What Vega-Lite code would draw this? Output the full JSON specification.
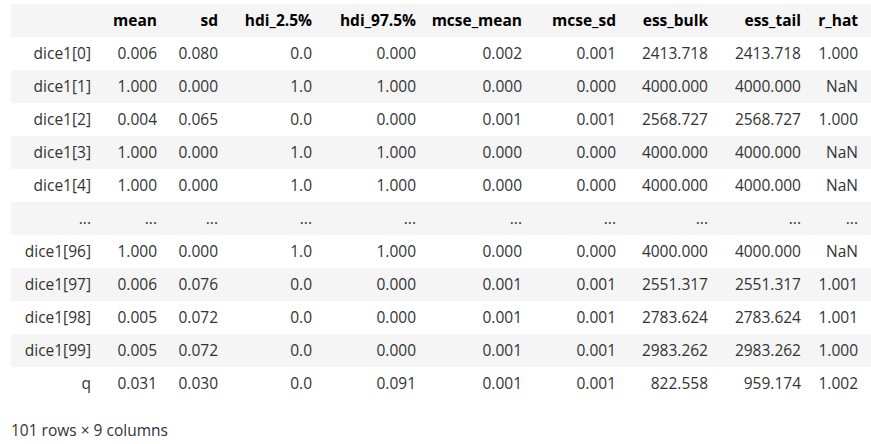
{
  "$schema": "https://vega.github.io/schema/vega-lite/v6.json",
  "padding": {"left": 11, "top": 4, "right": 0, "bottom": 0},
  "spacing": 0,
  "title": {
    "text": "101 rows × 9 columns",
    "orient": "bottom",
    "anchor": "start",
    "offset": 24,
    "font": "Open Sans",
    "fontSize": 15.5,
    "fontWeight": "normal",
    "color": "#333"
  },
  "data": {
    "values": [
      {"r": 0, "shade": true, "idx": "", "mean": "mean", "sd": "sd", "hdi_lo": "hdi_2.5%", "hdi_hi": "hdi_97.5%", "mcse_mean": "mcse_mean", "mcse_sd": "mcse_sd", "ess_bulk": "ess_bulk", "ess_tail": "ess_tail", "r_hat": "r_hat"},
      {"r": 1, "shade": false, "idx": "dice1[0]", "mean": "0.006", "sd": "0.080", "hdi_lo": "0.0", "hdi_hi": "0.000", "mcse_mean": "0.002", "mcse_sd": "0.001", "ess_bulk": "2413.718", "ess_tail": "2413.718", "r_hat": "1.000"},
      {"r": 2, "shade": true, "idx": "dice1[1]", "mean": "1.000", "sd": "0.000", "hdi_lo": "1.0", "hdi_hi": "1.000", "mcse_mean": "0.000", "mcse_sd": "0.000", "ess_bulk": "4000.000", "ess_tail": "4000.000", "r_hat": "NaN"},
      {"r": 3, "shade": false, "idx": "dice1[2]", "mean": "0.004", "sd": "0.065", "hdi_lo": "0.0", "hdi_hi": "0.000", "mcse_mean": "0.001", "mcse_sd": "0.001", "ess_bulk": "2568.727", "ess_tail": "2568.727", "r_hat": "1.000"},
      {"r": 4, "shade": true, "idx": "dice1[3]", "mean": "1.000", "sd": "0.000", "hdi_lo": "1.0", "hdi_hi": "1.000", "mcse_mean": "0.000", "mcse_sd": "0.000", "ess_bulk": "4000.000", "ess_tail": "4000.000", "r_hat": "NaN"},
      {"r": 5, "shade": false, "idx": "dice1[4]", "mean": "1.000", "sd": "0.000", "hdi_lo": "1.0", "hdi_hi": "1.000", "mcse_mean": "0.000", "mcse_sd": "0.000", "ess_bulk": "4000.000", "ess_tail": "4000.000", "r_hat": "NaN"},
      {"r": 6, "shade": true, "idx": "...", "mean": "...", "sd": "...", "hdi_lo": "...", "hdi_hi": "...", "mcse_mean": "...", "mcse_sd": "...", "ess_bulk": "...", "ess_tail": "...", "r_hat": "..."},
      {"r": 7, "shade": false, "idx": "dice1[96]", "mean": "1.000", "sd": "0.000", "hdi_lo": "1.0", "hdi_hi": "1.000", "mcse_mean": "0.000", "mcse_sd": "0.000", "ess_bulk": "4000.000", "ess_tail": "4000.000", "r_hat": "NaN"},
      {"r": 8, "shade": true, "idx": "dice1[97]", "mean": "0.006", "sd": "0.076", "hdi_lo": "0.0", "hdi_hi": "0.000", "mcse_mean": "0.001", "mcse_sd": "0.001", "ess_bulk": "2551.317", "ess_tail": "2551.317", "r_hat": "1.001"},
      {"r": 9, "shade": false, "idx": "dice1[98]", "mean": "0.005", "sd": "0.072", "hdi_lo": "0.0", "hdi_hi": "0.000", "mcse_mean": "0.001", "mcse_sd": "0.001", "ess_bulk": "2783.624", "ess_tail": "2783.624", "r_hat": "1.001"},
      {"r": 10, "shade": true, "idx": "dice1[99]", "mean": "0.005", "sd": "0.072", "hdi_lo": "0.0", "hdi_hi": "0.000", "mcse_mean": "0.001", "mcse_sd": "0.001", "ess_bulk": "2983.262", "ess_tail": "2983.262", "r_hat": "1.000"},
      {"r": 11, "shade": false, "idx": "q", "mean": "0.031", "sd": "0.030", "hdi_lo": "0.0", "hdi_hi": "0.091", "mcse_mean": "0.001", "mcse_sd": "0.001", "ess_bulk": "822.558", "ess_tail": "959.174", "r_hat": "1.002"}
    ]
  },
  "hconcat": [
    {"width": 86, "height": 396,
     "encoding": {"y": {"field": "r", "type": "ordinal", "axis": null, "scale": {"paddingInner": 0, "paddingOuter": 0}}},
     "layer": [
       {"transform": [{"filter": "datum.shade"}], "mark": {"type": "rect", "color": "#f5f5f5"}},
       {"transform": [{"filter": "datum.r > 0"}], "mark": {"type": "text", "style": "cell"}, "encoding": {"x": {"value": "width"}, "text": {"field": "idx"}}}
     ]},
    {"width": 66, "height": 396,
     "encoding": {"y": {"field": "r", "type": "ordinal", "axis": null, "scale": {"paddingInner": 0, "paddingOuter": 0}}, "x": {"value": "width"}, "text": {"field": "mean"}},
     "layer": [
       {"transform": [{"filter": "datum.shade"}], "mark": {"type": "rect", "color": "#f5f5f5"}, "encoding": {"x": {"value": 0}, "x2": {"value": "width"}}},
       {"transform": [{"filter": "datum.r == 0"}], "mark": {"type": "text", "style": "head"}},
       {"transform": [{"filter": "datum.r > 0"}], "mark": {"type": "text", "style": "cell"}}
     ]},
    {"width": 61, "height": 396,
     "encoding": {"y": {"field": "r", "type": "ordinal", "axis": null, "scale": {"paddingInner": 0, "paddingOuter": 0}}, "x": {"value": "width"}, "text": {"field": "sd"}},
     "layer": [
       {"transform": [{"filter": "datum.shade"}], "mark": {"type": "rect", "color": "#f5f5f5"}, "encoding": {"x": {"value": 0}, "x2": {"value": "width"}}},
       {"transform": [{"filter": "datum.r == 0"}], "mark": {"type": "text", "style": "head"}},
       {"transform": [{"filter": "datum.r > 0"}], "mark": {"type": "text", "style": "cell"}}
     ]},
    {"width": 94, "height": 396,
     "encoding": {"y": {"field": "r", "type": "ordinal", "axis": null, "scale": {"paddingInner": 0, "paddingOuter": 0}}, "x": {"value": "width"}, "text": {"field": "hdi_lo"}},
     "layer": [
       {"transform": [{"filter": "datum.shade"}], "mark": {"type": "rect", "color": "#f5f5f5"}, "encoding": {"x": {"value": 0}, "x2": {"value": "width"}}},
       {"transform": [{"filter": "datum.r == 0"}], "mark": {"type": "text", "style": "head"}},
       {"transform": [{"filter": "datum.r > 0"}], "mark": {"type": "text", "style": "cell"}}
     ]},
    {"width": 104, "height": 396,
     "encoding": {"y": {"field": "r", "type": "ordinal", "axis": null, "scale": {"paddingInner": 0, "paddingOuter": 0}}, "x": {"value": "width"}, "text": {"field": "hdi_hi"}},
     "layer": [
       {"transform": [{"filter": "datum.shade"}], "mark": {"type": "rect", "color": "#f5f5f5"}, "encoding": {"x": {"value": 0}, "x2": {"value": "width"}}},
       {"transform": [{"filter": "datum.r == 0"}], "mark": {"type": "text", "style": "head"}},
       {"transform": [{"filter": "datum.r > 0"}], "mark": {"type": "text", "style": "cell"}}
     ]},
    {"width": 106, "height": 396,
     "encoding": {"y": {"field": "r", "type": "ordinal", "axis": null, "scale": {"paddingInner": 0, "paddingOuter": 0}}, "x": {"value": "width"}, "text": {"field": "mcse_mean"}},
     "layer": [
       {"transform": [{"filter": "datum.shade"}], "mark": {"type": "rect", "color": "#f5f5f5"}, "encoding": {"x": {"value": 0}, "x2": {"value": "width"}}},
       {"transform": [{"filter": "datum.r == 0"}], "mark": {"type": "text", "style": "head"}},
       {"transform": [{"filter": "datum.r > 0"}], "mark": {"type": "text", "style": "cell"}}
     ]},
    {"width": 94, "height": 396,
     "encoding": {"y": {"field": "r", "type": "ordinal", "axis": null, "scale": {"paddingInner": 0, "paddingOuter": 0}}, "x": {"value": "width"}, "text": {"field": "mcse_sd"}},
     "layer": [
       {"transform": [{"filter": "datum.shade"}], "mark": {"type": "rect", "color": "#f5f5f5"}, "encoding": {"x": {"value": 0}, "x2": {"value": "width"}}},
       {"transform": [{"filter": "datum.r == 0"}], "mark": {"type": "text", "style": "head"}},
       {"transform": [{"filter": "datum.r > 0"}], "mark": {"type": "text", "style": "cell"}}
     ]},
    {"width": 92, "height": 396,
     "encoding": {"y": {"field": "r", "type": "ordinal", "axis": null, "scale": {"paddingInner": 0, "paddingOuter": 0}}, "x": {"value": "width"}, "text": {"field": "ess_bulk"}},
     "layer": [
       {"transform": [{"filter": "datum.shade"}], "mark": {"type": "rect", "color": "#f5f5f5"}, "encoding": {"x": {"value": 0}, "x2": {"value": "width"}}},
       {"transform": [{"filter": "datum.r == 0"}], "mark": {"type": "text", "style": "head"}},
       {"transform": [{"filter": "datum.r > 0"}], "mark": {"type": "text", "style": "cell"}}
     ]},
    {"width": 93, "height": 396,
     "encoding": {"y": {"field": "r", "type": "ordinal", "axis": null, "scale": {"paddingInner": 0, "paddingOuter": 0}}, "x": {"value": "width"}, "text": {"field": "ess_tail"}},
     "layer": [
       {"transform": [{"filter": "datum.shade"}], "mark": {"type": "rect", "color": "#f5f5f5"}, "encoding": {"x": {"value": 0}, "x2": {"value": "width"}}},
       {"transform": [{"filter": "datum.r == 0"}], "mark": {"type": "text", "style": "head"}},
       {"transform": [{"filter": "datum.r > 0"}], "mark": {"type": "text", "style": "cell"}}
     ]},
    {"width": 64, "height": 396,
     "encoding": {"y": {"field": "r", "type": "ordinal", "axis": null, "scale": {"paddingInner": 0, "paddingOuter": 0}}, "x": {"value": "width"}, "text": {"field": "r_hat"}},
     "layer": [
       {"transform": [{"filter": "datum.shade"}], "mark": {"type": "rect", "color": "#f5f5f5"}, "encoding": {"x": {"value": 0}, "x2": {"value": "width"}}},
       {"transform": [{"filter": "datum.r == 0"}], "mark": {"type": "text", "style": "head", "dx": -13}},
       {"transform": [{"filter": "datum.r > 0"}], "mark": {"type": "text", "style": "cell", "dx": -13}}
     ]}
  ],
  "config": {
    "view": {"stroke": null},
    "style": {
      "cell": {"align": "right", "baseline": "middle", "dx": -6, "font": "Open Sans", "fontSize": 15.5, "color": "#333"},
      "head": {"align": "right", "baseline": "middle", "dx": -6, "font": "Open Sans", "fontSize": 15.5, "fontWeight": "bold", "color": "#000"}
    }
  }
}
